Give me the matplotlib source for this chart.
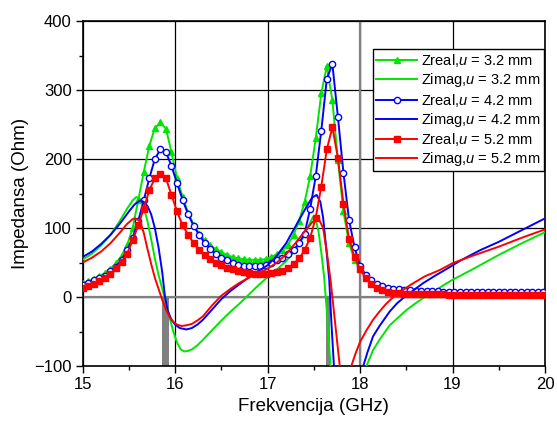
import matplotlib
matplotlib.use("Agg")
import matplotlib.pyplot as plt

plt.rcParams['font.family'] = ['Liberation Sans', 'DejaVu Sans']
plt.rcParams['mathtext.fontset'] = 'custom'
plt.rcParams['mathtext.it'] = 'Liberation Sans:italic'
plt.rcParams['mathtext.rm'] = 'Liberation Sans'

# frekvencije (GHz) za Zreal krive (markeri)
freq = [15.00, 15.06, 15.12, 15.18, 15.24, 15.30, 15.36, 15.42, 15.48, 15.54,
        15.60, 15.66, 15.72, 15.78, 15.84, 15.90, 15.96, 16.02, 16.08, 16.14,
        16.20, 16.26, 16.32, 16.38, 16.44, 16.50, 16.56, 16.62, 16.68, 16.74,
        16.80, 16.86, 16.92, 16.98, 17.04, 17.10, 17.16, 17.22, 17.28, 17.34,
        17.40, 17.46, 17.52, 17.58, 17.64, 17.70, 17.76, 17.82, 17.88, 17.94,
        18.00, 18.06, 18.12, 18.18, 18.24, 18.30, 18.36, 18.42, 18.48, 18.54,
        18.60, 18.66, 18.72, 18.78, 18.84, 18.90, 18.96, 19.02, 19.08, 19.14,
        19.20, 19.26, 19.32, 19.38, 19.44, 19.50, 19.56, 19.62, 19.68, 19.74,
        19.80, 19.86, 19.92, 19.98]

zreal_32 = [20, 23, 26, 30, 35, 41, 49, 60, 75, 100,
            140, 181, 219, 245, 253, 244, 210, 172, 145, 122,
            105, 92, 82, 75, 69, 65, 61, 58, 56, 55,
            54, 54, 54, 55, 58, 62, 68, 76, 90, 110,
            138, 175, 230, 295, 335, 285, 198, 124, 78, 54,
            40, 30, 23, 18, 15, 13, 12, 11, 10, 10,
            9, 9, 9, 9, 9, 8, 8, 8, 8, 8,
            8, 8, 8, 8, 8, 8, 8, 7, 7, 7,
            7, 7, 7, 7]

zreal_42 = [18, 21, 24, 27, 31, 37, 44, 54, 68, 86,
            110, 140, 172, 200, 214, 210, 190, 165, 141, 120,
            103, 90, 78, 70, 63, 57, 53, 49, 47, 45,
            45, 45, 45, 47, 50, 53, 57, 62, 68, 78,
            92, 128, 175, 241, 316, 338, 261, 180, 112, 72,
            45, 32, 24, 19, 16, 13, 12, 11, 10, 10,
            9, 9, 9, 9, 9, 8, 8, 8, 8, 8,
            8, 8, 8, 8, 8, 8, 7, 7, 7, 7,
            7, 7, 7, 7]

zreal_52 = [13, 16, 19, 23, 28, 34, 42, 51, 63, 82,
            104, 128, 155, 172, 179, 172, 148, 124, 104, 90,
            78, 68, 61, 55, 50, 46, 42, 40, 38, 36,
            35, 34, 34, 34, 35, 36, 38, 42, 48, 56,
            68, 86, 115, 160, 214, 246, 202, 135, 84, 58,
            40, 28, 19, 13, 10, 8, 6.5, 5.5, 5, 4.5,
            4, 4, 4, 4, 4, 4, 3.5, 3.5, 3.5, 3.5,
            3.5, 3.5, 3.5, 3.5, 3.5, 3.5, 3.5, 3.5, 3.5, 3.5,
            3.5, 3.5, 3.5, 3.5]

# Zimag krive (bez markera)
fimag_32 = [15.00, 15.10, 15.20, 15.30, 15.40, 15.48, 15.54, 15.58, 15.62, 15.66,
            15.70, 15.74, 15.78, 15.82, 15.86, 15.90, 15.94, 15.98, 16.02, 16.06,
            16.10, 16.14, 16.18, 16.24, 16.30, 16.40, 16.50, 16.60, 16.70, 16.80,
            16.90, 17.00, 17.10, 17.20, 17.30, 17.40, 17.46, 17.49, 17.52, 17.55,
            17.58, 17.61, 17.64, 17.68, 17.70, 17.98, 18.05, 18.14, 18.21, 18.32,
            18.50, 18.60, 18.70, 18.80, 18.90, 19.00, 19.20, 19.50, 19.75, 20.00]
zimag_32 = [54, 63, 75, 90, 110, 128, 140, 145, 142, 130,
            110, 84, 56, 32, 12, -8, -30, -50, -66, -76,
            -79, -78, -76, -70, -62, -48, -34, -21, -9, 4,
            17, 29, 40, 52, 68, 90, 108, 116, 112, 95,
            65, 30, -20, -100, -140, -150, -106, -77, -62, -41,
            -19, -9, 0, 8, 17, 25, 39, 61, 78, 94]

fimag_42 = [15.00, 15.10, 15.20, 15.30, 15.40, 15.50, 15.56, 15.62, 15.66, 15.70,
            15.74, 15.78, 15.82, 15.86, 15.89, 15.92, 15.96, 16.00, 16.05, 16.12,
            16.18, 16.24, 16.30, 16.40, 16.50, 16.60, 16.70, 16.80, 16.90, 17.00,
            17.10, 17.20, 17.30, 17.40, 17.48, 17.53, 17.57, 17.60, 17.64, 17.666,
            17.69, 17.717, 17.74, 17.98, 18.02, 18.08, 18.14, 18.21, 18.32, 18.40,
            18.48, 18.58, 18.68, 18.80, 18.94, 19.10, 19.30, 19.50, 19.75, 20.00]
zimag_42 = [58, 66, 77, 90, 106, 124, 134, 140, 138, 132,
            120, 100, 72, 36, 0, -20, -33, -40, -45, -47,
            -45, -40, -33, -18, -3, 9, 19, 29, 38, 46,
            60, 78, 102, 126, 144, 148, 138, 115, 62, 25,
            -38, -100, -150, -140, -106, -80, -57, -42, -21, -9,
            0, 10, 20, 30, 41, 54, 68, 80, 97, 114]

fimag_52 = [15.00, 15.10, 15.20, 15.30, 15.40, 15.48, 15.54, 15.57, 15.62, 15.66,
            15.70, 15.74, 15.78, 15.82, 15.86, 15.90, 15.94, 15.98, 16.02, 16.07,
            16.12, 16.18, 16.24, 16.30, 16.40, 16.50, 16.60, 16.70, 16.80, 16.90,
            17.00, 17.10, 17.20, 17.30, 17.40, 17.48, 17.55, 17.60, 17.64, 17.68,
            17.70, 17.74, 17.78, 17.80, 17.85, 17.89, 17.95, 18.00, 18.07, 18.14,
            18.21, 18.28, 18.36, 18.45, 18.55, 18.70, 18.86, 19.00, 19.20, 19.50,
            19.75, 20.00]
zimag_52 = [50, 57, 66, 78, 93, 106, 113, 114, 110, 93,
            70, 48, 28, 12, -4, -18, -29, -36, -40, -42,
            -41, -39, -34, -28, -12, 2, 12, 21, 28, 35,
            41, 50, 62, 78, 95, 108, 114, 100, 65, 25,
            0, -50, -100, -125, -125, -106, -82, -65, -48, -33,
            -21, -10, 0, 9, 18, 30, 39, 49, 59, 73,
            86, 98]

# sive trake (opseg rezonancija)
trake = [(15.854, 15.93), (17.63, 17.675)]

zelena = '#00e600'
plava = '#0000ff'
crvena = '#ff0000'

fig = plt.figure(figsize=(5.57, 4.21), dpi=100)
ax = fig.add_axes([0.1485, 0.1306, 0.8300, 0.8194])

for a, b in trake:
    ax.fill_between([a, b], [-100, -100], [0, 0], color='#808080', lw=0, zorder=1)

ax.plot(freq, zreal_32, color=zelena, lw=1.4, marker='^', ms=4.5, mfc=zelena, mec=zelena,
        label='Zreal,$u$ = 3.2 mm', zorder=3)
ax.plot(fimag_32, zimag_32, color=zelena, lw=1.4, label='Zimag,$u$ = 3.2 mm', zorder=3)
ax.plot(freq, zreal_42, color=plava, lw=1.4, marker='o', ms=4.5, mfc='white', mec=plava, mew=1,
        label='Zreal,$u$ = 4.2 mm', zorder=3)
ax.plot(fimag_42, zimag_42, color=plava, lw=1.4, label='Zimag,$u$ = 4.2 mm', zorder=3)
ax.plot(freq, zreal_52, color=crvena, lw=1.4, marker='s', ms=4, mfc=crvena, mec=crvena,
        label='Zreal,$u$ = 5.2 mm', zorder=3)
ax.plot(fimag_52, zimag_52, color=crvena, lw=1.4, label='Zimag,$u$ = 5.2 mm', zorder=3)

ax.set_xlim(15, 20)
ax.set_ylim(-100, 400)
ax.set_xticks([15, 16, 17, 18, 19, 20])
ax.set_xticks([15.5, 16.5, 17.5, 18.5, 19.5], minor=True)
ax.set_yticks([-100, 0, 100, 200, 300, 400])
ax.set_yticks([-50, 50, 150, 250, 350], minor=True)
ax.tick_params(which='major', direction='out', length=5, width=1, labelsize=12, pad=3)
ax.tick_params(which='minor', direction='out', length=3, width=1)
ax.grid(True, which='major', color='black', lw=0.9, zorder=0)
ax.axhline(0, color='#808080', lw=1.6, zorder=2)
ax.axvline(18, color='#808080', lw=1.6, zorder=2)
for s in ax.spines.values():
    s.set_linewidth(1.2)

ax.set_xlabel('Frekvencija (GHz)', fontsize=13.5)
ax.set_ylabel('Impedansa (Ohm)', fontsize=13.5)

leg = ax.legend(loc='upper left', bbox_to_anchor=(0.6286, 0.918), borderaxespad=0,
                fontsize=10.5, frameon=True, fancybox=False, framealpha=1,
                edgecolor='black', handlelength=2.8, handletextpad=0.3,
                labelspacing=0.15, borderpad=0.2)
leg.get_frame().set_linewidth(1)
leg.set_zorder(5)

plt.savefig('out.png', dpi=100)
